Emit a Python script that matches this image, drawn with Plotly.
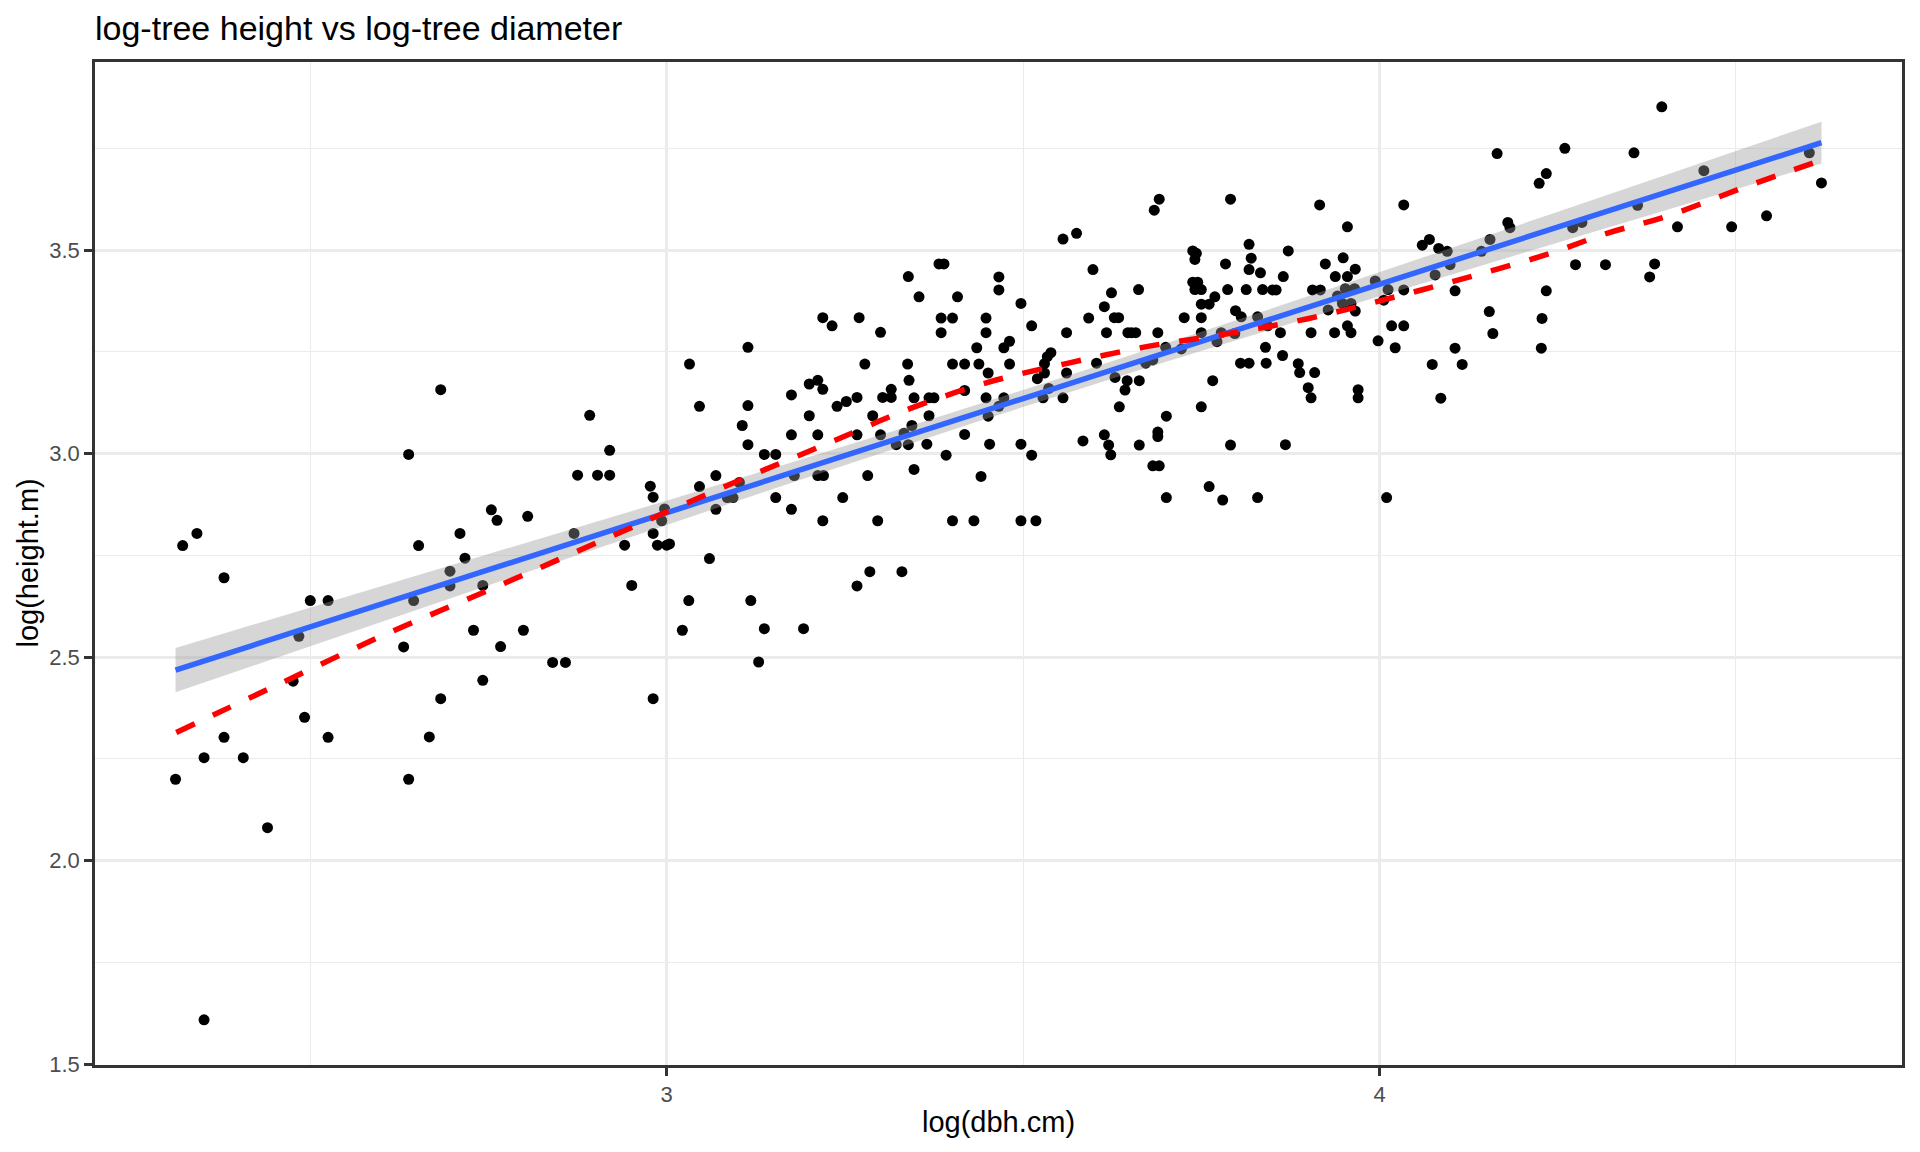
import numpy as np
import plotly.graph_objects as go

# ---- data ----
log_dbh = [
    2.311, 2.321, 2.341, 2.379, 2.500, 2.525, 2.484, 2.476, 2.492, 2.379, 2.525, 2.351, 2.406, 2.440, 2.351,
    2.638, 2.652, 2.645, 2.631, 2.638, 2.667,
    2.683, 2.892, 2.920, 2.875, 2.903, 2.920, 2.977, 2.981, 2.754, 2.762, 2.805, 2.710, 2.717, 2.696, 2.696,
    2.742, 2.870, 2.997, 2.993, 2.981, 2.941, 2.987, 3.000, 3.004, 2.951, 3.031, 3.022, 2.729, 2.799, 2.767,
    2.840, 2.858, 2.742, 2.683, 2.981, 3.032,
    3.339, 3.219, 3.232, 3.270, 3.300, 3.114, 3.278, 3.338, 3.340, 3.200, 3.212, 3.219, 3.175, 3.046, 3.114,
    3.239, 3.252, 3.267, 3.303, 3.315, 3.315, 3.200, 3.289, 3.106, 3.175, 3.212, 3.267, 3.300, 3.114, 3.137,
    3.153, 3.069, 3.046, 3.102, 3.085, 3.093, 3.069, 3.179, 3.212, 3.220, 3.282, 3.153, 3.247, 3.175, 3.219,
    3.296, 3.322, 3.333, 3.339, 3.060, 3.285, 3.330, 3.267, 3.118, 3.137, 3.192, 3.129,
    3.556, 3.575, 3.382, 3.389, 3.466, 3.466, 3.354, 3.408, 3.497, 3.385, 3.401, 3.448, 3.592, 3.512, 3.385,
    3.448, 3.561, 3.481, 3.435, 3.473, 3.401, 3.418, 3.438, 3.481, 3.539, 3.534, 3.530, 3.451, 3.530, 3.520,
    3.561, 3.347, 3.368, 3.375, 3.418, 3.448, 3.473, 3.528, 3.536, 3.556, 3.368, 3.344, 3.365, 3.418, 3.451,
    3.466, 3.453, 3.497, 3.584, 3.392, 3.512, 3.347, 3.441, 3.401, 3.431, 3.497, 3.518,
    3.691, 3.684, 3.791, 3.738, 3.743, 3.741, 3.817, 3.820, 3.817, 3.833, 3.598, 3.784, 3.624, 3.662, 3.738,
    3.745, 3.741, 3.750, 3.787, 3.813, 3.836, 3.769, 3.761, 3.750, 3.614, 3.628, 3.634, 3.726, 3.750, 3.798,
    3.806, 3.617, 3.647, 3.652, 3.658, 3.689, 3.750, 3.778, 3.797, 3.829, 3.772, 3.700, 3.722, 3.840, 3.603,
    3.672, 3.682, 3.805, 3.817, 3.841, 3.629, 3.646, 3.663, 3.643, 3.766, 3.635, 3.701, 3.750, 3.689, 3.689,
    3.614, 3.620, 3.623, 3.663, 3.791, 3.682, 3.691, 3.761, 3.701, 3.780, 3.829,
    3.916, 4.034, 3.955, 3.872, 4.060, 3.924, 3.949, 3.966, 3.938, 3.955, 3.865, 3.850, 3.855, 3.906, 3.917,
    3.952, 3.965, 3.941, 3.994, 4.012, 4.034, 3.948, 3.960, 3.928, 3.966, 4.006, 3.843, 3.861, 3.904, 3.937,
    3.955, 3.960, 4.017, 4.034, 3.998, 4.022, 3.864, 3.886, 3.888, 3.909, 3.900, 3.904, 3.970, 3.970, 3.868,
    4.010,
    4.165, 4.260, 4.234, 4.224, 4.070, 4.083, 4.095, 4.078, 4.099, 4.143, 4.155, 4.180, 4.183, 4.271, 4.284,
    4.275, 4.106, 4.234, 4.154, 4.228, 4.159, 4.106, 4.227, 4.074, 4.116, 4.086, 4.317,
    4.396, 4.357, 4.455, 4.362, 4.603, 4.620, 4.418, 4.494, 4.543, 4.386, 4.379,
]
log_height = [
    2.200, 2.774, 2.804, 2.695, 2.639, 2.639, 2.551, 2.441, 2.352, 2.303, 2.303, 2.253, 2.253, 2.081, 1.609,
    2.998, 2.774, 2.639, 2.525, 2.200, 2.304,
    3.157, 3.094, 3.008, 2.947, 2.947, 2.947, 2.920, 2.893, 2.862, 2.836, 2.846, 2.804, 2.743, 2.711, 2.675,
    2.676, 2.804, 2.864, 2.835, 2.804, 2.775, 2.775, 2.775, 2.778, 2.676, 2.639, 2.566, 2.566, 2.566, 2.526,
    2.487, 2.487, 2.443, 2.398, 2.398, 3.220,
    3.435, 3.334, 3.314, 3.334, 3.298, 3.261, 3.220, 3.220, 3.180, 3.171, 3.180, 3.158, 3.144, 3.116, 3.118,
    3.116, 3.128, 3.138, 3.138, 3.138, 3.158, 3.093, 3.093, 3.069, 3.046, 3.046, 3.046, 3.046, 3.022, 2.998,
    2.998, 2.946, 2.919, 2.929, 2.892, 2.892, 2.863, 2.946, 2.946, 2.946, 2.946, 2.892, 2.892, 2.863, 2.835,
    2.835, 3.022, 3.050, 3.022, 2.742, 2.710, 2.710, 2.675, 2.639, 2.570, 2.570, 2.488,
    3.527, 3.541, 3.466, 3.466, 3.434, 3.402, 3.385, 3.385, 3.369, 3.333, 3.333, 3.333, 3.333, 3.314, 3.297,
    3.297, 3.297, 3.276, 3.260, 3.260, 3.220, 3.220, 3.220, 3.220, 3.248, 3.238, 3.221, 3.198, 3.198, 3.184,
    3.198, 3.137, 3.137, 3.137, 3.155, 3.137, 3.137, 3.137, 3.160, 3.137, 3.093, 3.069, 3.023, 3.047, 3.092,
    3.116, 3.023, 3.023, 3.031, 2.996, 2.996, 2.961, 2.944, 2.835, 2.835, 2.835, 2.835,
    3.625, 3.598, 3.625, 3.498, 3.492, 3.477, 3.514, 3.480, 3.452, 3.444, 3.452, 3.466, 3.395, 3.403, 3.421,
    3.421, 3.403, 3.403, 3.403, 3.403, 3.403, 3.385, 3.367, 3.367, 3.361, 3.334, 3.334, 3.334, 3.334, 3.351,
    3.336, 3.297, 3.297, 3.297, 3.297, 3.297, 3.297, 3.297, 3.295, 3.336, 3.275, 3.261, 3.257, 3.261, 3.222,
    3.222, 3.230, 3.222, 3.222, 3.222, 3.187, 3.179, 3.179, 3.156, 3.179, 3.115, 3.092, 3.115, 3.053, 3.042,
    3.046, 3.021, 2.997, 3.021, 3.021, 2.970, 2.970, 2.919, 2.892, 2.886, 2.892,
    3.611, 3.611, 3.557, 3.498, 3.512, 3.466, 3.481, 3.453, 3.435, 3.435, 3.435, 3.402, 3.402, 3.402, 3.402,
    3.405, 3.405, 3.387, 3.424, 3.403, 3.402, 3.369, 3.369, 3.353, 3.350, 3.377, 3.314, 3.297, 3.297, 3.297,
    3.314, 3.297, 3.314, 3.314, 3.277, 3.260, 3.241, 3.221, 3.199, 3.199, 3.162, 3.137, 3.157, 3.137, 3.022,
    2.892,
    3.737, 3.750, 3.688, 3.664, 3.526, 3.504, 3.497, 3.439, 3.464, 3.497, 3.526, 3.568, 3.555, 3.555, 3.568,
    3.464, 3.400, 3.400, 3.349, 3.332, 3.295, 3.259, 3.259, 3.219, 3.219, 3.136, 3.464,
    3.852, 3.739, 3.695, 3.610, 3.739, 3.665, 3.557, 3.557, 3.584, 3.466, 3.434,
]

# red dashed curve
red_x = [2.312, 2.442, 2.599, 2.760, 2.920, 3.079, 3.238, 3.342, 3.453, 3.565,
         3.677, 3.789, 3.901, 4.013, 4.124, 4.236, 4.319, 4.403, 4.510, 4.620]
red_y = [2.315, 2.422, 2.551, 2.672, 2.795, 2.917, 3.034, 3.111, 3.176, 3.223,
         3.264, 3.295, 3.332, 3.381, 3.433, 3.490, 3.541, 3.583, 3.653, 3.721]

x_tick_vals = [3, 4]
x_tick_text = ["3", "4"]
y_tick_vals = [1.5, 2.0, 2.5, 3.0, 3.5]
y_tick_text = ["1.5", "2.0", "2.5", "3.0", "3.5"]

title_text = "log-tree height vs log-tree diameter"
x_title = "log(dbh.cm)"
y_title = "log(height.m)"

# ---- linear model fit with 95% confidence band (like geom_smooth(method="lm")) ----
x = np.array(log_dbh)
y = np.array(log_height)
n = len(x)
b1, b0 = np.polyfit(x, y, 1)
xs = np.linspace(x.min(), x.max(), 80)
ys = b0 + b1 * xs
resid = y - (b0 + b1 * x)
s = np.sqrt(np.sum(resid ** 2) / (n - 2))
sxx = np.sum((x - x.mean()) ** 2)
se = s * np.sqrt(1.0 / n + (xs - x.mean()) ** 2 / sxx)
tq = 1.9676
lo = ys - tq * se
hi = ys + tq * se

FONT = "Liberation Sans, Arial, sans-serif"

# the page body adds an 8px offset; compensate so the plot panel lands where it should
W, H = 1912, 1144
ML, MR, MT, MB = 87, 18, 54, 87

fig = go.Figure()
fig.add_trace(go.Scatter(
    x=log_dbh, y=log_height, mode="markers",
    marker=dict(color="black", size=11, line=dict(width=0)),
    hoverinfo="skip", showlegend=False))
fig.add_trace(go.Scatter(
    x=np.concatenate([xs, xs[::-1]]), y=np.concatenate([hi, lo[::-1]]),
    mode="lines", fill="toself", fillcolor="rgba(153,153,153,0.4)",
    line=dict(width=0), hoverinfo="skip", showlegend=False))
fig.add_trace(go.Scatter(
    x=xs, y=ys, mode="lines", line=dict(color="#3366FF", width=5.5),
    hoverinfo="skip", showlegend=False))
fig.add_trace(go.Scatter(
    x=red_x, y=red_y, mode="lines", line=dict(color="#FF0000", width=5.5, dash="20px,20px", shape="spline"),
    hoverinfo="skip", showlegend=False))

axis_common = dict(
    showline=True, mirror=True, linecolor="#333333", linewidth=2.5,
    ticks="outside", ticklen=8, tickwidth=2.5, tickcolor="#333333",
    tickfont=dict(family=FONT, size=22, color="#4D4D4D"),
    showgrid=True, gridcolor="#EBEBEB", gridwidth=2.7,
    zeroline=False,
)

plot_w = W - ML - MR
plot_h = H - MT - MB

fig.update_layout(
    width=W, height=H,
    paper_bgcolor="white", plot_bgcolor="white",
    margin=dict(l=ML, r=MR, t=MT, b=MB),
    showlegend=False,
    title=dict(text=title_text, x=0, xref="paper", xanchor="left",
               y=1 - 20 / H, yref="container", yanchor="middle",
               font=dict(family=FONT, size=34, color="black")),
    xaxis=dict(range=[2.198, 4.733], tickvals=x_tick_vals, ticktext=x_tick_text,
               minor=dict(tickvals=[2.5, 3.5, 4.5], showgrid=True, gridcolor="#EBEBEB", gridwidth=1.4, ticks=""),
               **axis_common),
    yaxis=dict(range=[1.498, 3.962], tickvals=y_tick_vals, ticktext=y_tick_text,
               minor=dict(tickvals=[1.75, 2.25, 2.75, 3.25, 3.75], showgrid=True, gridcolor="#EBEBEB",
                          gridwidth=1.4, ticks=""),
               **axis_common),
    annotations=[
        dict(text=x_title, xref="paper", yref="paper", x=0.5, y=-56.6 / plot_h,
             xanchor="center", yanchor="middle", showarrow=False,
             font=dict(family=FONT, size=29, color="black")),
        dict(text=y_title, xref="paper", yref="paper", x=-68 / plot_w, y=0.5,
             xanchor="center", yanchor="middle", textangle=-90, showarrow=False,
             font=dict(family=FONT, size=29, color="black")),
    ],
)

fig.write_html("out.html")
